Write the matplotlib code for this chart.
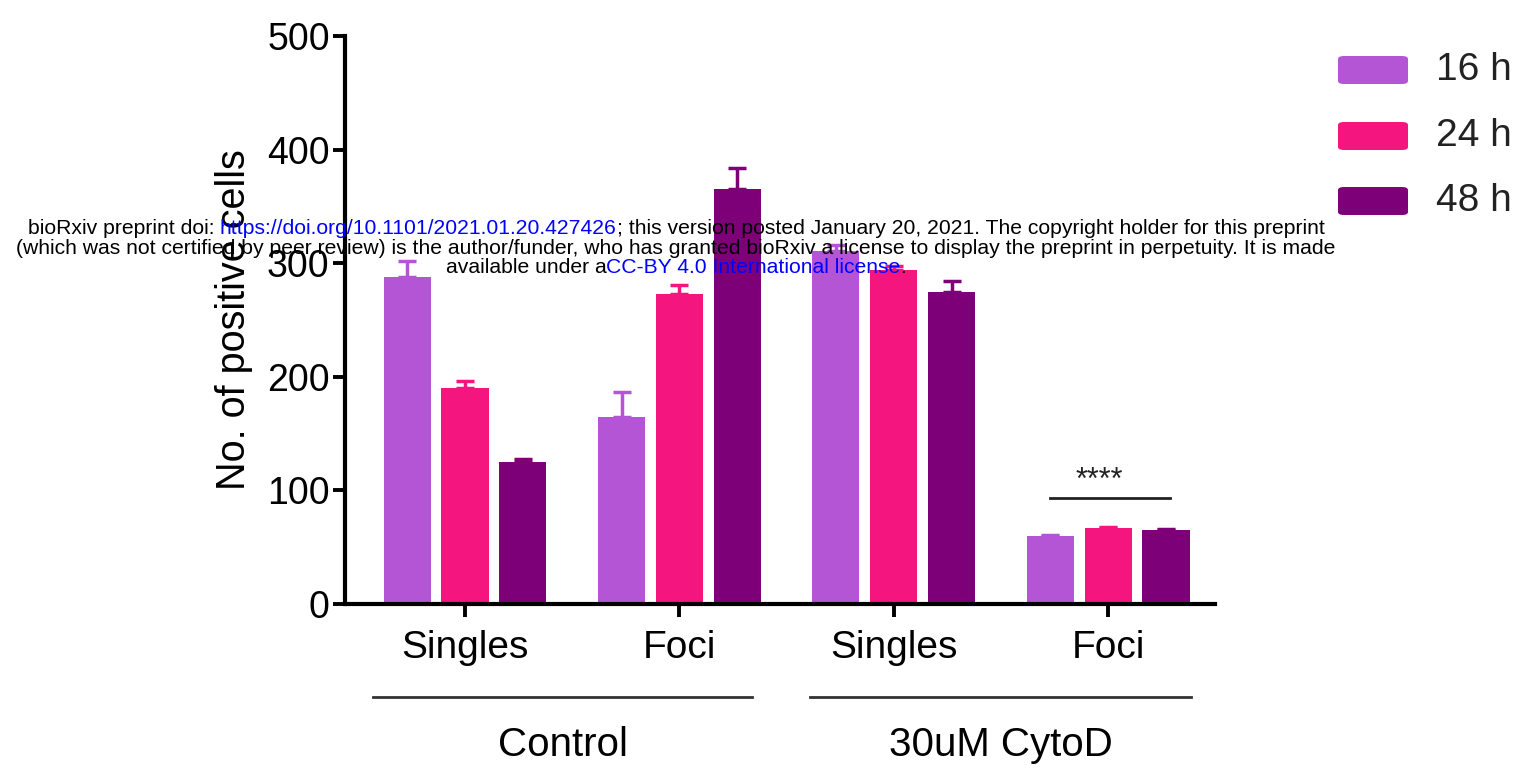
import numpy as np
import matplotlib.pyplot as plt
from matplotlib.patches import FancyBboxPatch

plt.rcParams['font.family'] = ['Liberation Sans', 'DejaVu Sans']

# bar data: four groups (Control Singles/Foci, CytoD Singles/Foci)
groups = ["Singles", "Foci", "Singles", "Foci"]
conditions = ["Control", "30uM CytoD"]
series = ["16 h", "24 h", "48 h"]
vals_16h = [288, 165, 311, 60]
vals_24h = [190, 273, 294, 67]
vals_48h = [125, 365, 275, 65]
err_16h = [14, 22, 5, 1]
err_24h = [6, 8, 4, 1]
err_48h = [3, 19, 9, 1]
colors = ["#B455D6", "#F5157F", "#7D0079"]

values = [vals_16h, vals_24h, vals_48h]
errors = [err_16h, err_24h, err_48h]

W, H = 1523, 768
fig = plt.figure(figsize=(W / 100, H / 100), dpi=100)
ax = fig.add_axes([0.2265, 0.2135, 0.5715, 0.7395])

x = np.arange(len(groups))
offsets = [-0.27, 0.0, 0.27]
for vals, errs, off, c, lab in zip(values, errors, offsets, colors, series):
    ax.bar(x + off, vals, width=0.22, color=c, label=lab,
           yerr=[np.zeros(len(errs)), errs],
           error_kw=dict(ecolor=c, capsize=6.5, capthick=2.5, elinewidth=2.5))

ax.set_xlim(-0.56, 3.5)
ax.set_ylim(0, 500)
ax.set_yticks([0, 100, 200, 300, 400, 500])
ax.set_xticks(x)
ax.set_xticklabels(groups)
ax.tick_params(axis='y', labelsize=27, length=9, width=2.8, pad=2)
ax.tick_params(axis='x', labelsize=28, length=9, width=2.8, pad=10)
for s in ["top", "right"]:
    ax.spines[s].set_visible(False)
for s in ["left", "bottom"]:
    ax.spines[s].set_linewidth(3)
ax.set_ylabel("No. of positive cells", fontsize=28.5, labelpad=10)

# significance bar over the CytoD foci group
ax.plot([2.73, 3.29], [93, 93], color="#222222", lw=2)
ax.text(2.96, 108, "****", ha="center", va="center", fontsize=22,
        color="#222222")

# condition brackets under the group labels
line_y = 1 - 697 / H
label_y = 1 - 745 / H
for (x0, x1), cond in zip([(373, 752), (810, 1191)], conditions):
    fig.add_artist(plt.Line2D([x0 / W, x1 / W], [line_y, line_y],
                              color="#333333", lw=2))
    fig.text((x0 + x1) / 2 / W, label_y, cond, ha="center", va="center",
             fontsize=29)

# legend: rounded swatches with labels
legend_rows = [70, 136, 201]
for c, lab, py in zip(colors, series, legend_rows):
    box = FancyBboxPatch((1338 / W, 1 - (py + 14) / H), 70 / W, 28 / H,
                         boxstyle="round,pad=0,rounding_size=0.004",
                         transform=fig.transFigure, facecolor=c,
                         edgecolor="none")
    fig.add_artist(box)
    fig.text(1436 / W, 1 - py / H, lab, ha="left", va="center",
             fontsize=28, color="#222222")

# preprint notice lines, links in blue
notice = [
    [("bioRxiv preprint doi: ", "black"),
     ("https://doi.org/10.1101/2021.01.20.427426", "blue"),
     ("; this version posted January 20, 2021. The copyright holder for this preprint", "black")],
    [("(which was not certified by peer review) is the author/funder, who has granted bioRxiv a license to display the preprint in perpetuity. It is made", "black")],
    [("available under a", "black"),
     ("CC-BY 4.0 International license", "blue"),
     (".", "black")],
]
line_ys = [229, 249, 268]
renderer = fig.canvas.get_renderer()
for parts, py in zip(notice, line_ys):
    texts = []
    for s, c in parts:
        t = fig.text(0, 1 - py / H, s, color=c, fontsize=15.2,
                     ha="left", va="center", zorder=10)
        texts.append(t)
    widths = [t.get_window_extent(renderer).width for t in texts]
    left = 676 - sum(widths) / 2
    for t, w in zip(texts, widths):
        t.set_x(left / W)
        left += w

fig.savefig("out.png", dpi=100)
